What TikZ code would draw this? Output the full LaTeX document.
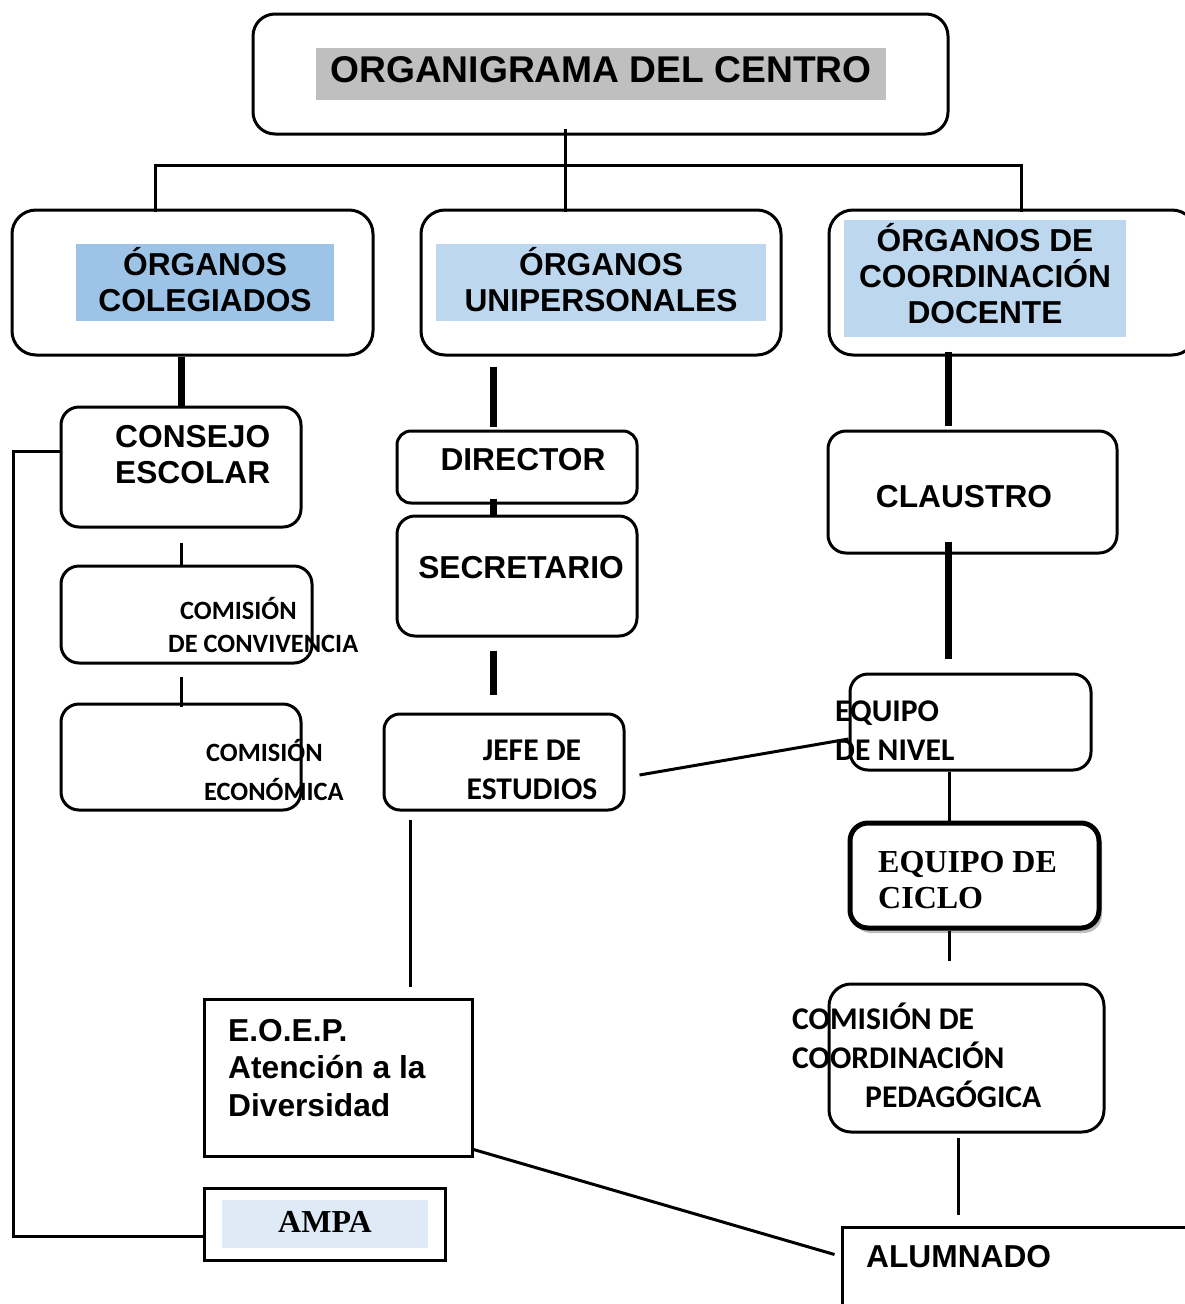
\documentclass[tikz,border=0pt]{standalone}
\usepackage{fontspec}
\setmainfont{Liberation Sans}
\newfontfamily\calibri{Carlito}
\newfontfamily\romana{Liberation Serif}
\usetikzlibrary{fit,shadows,calc}
\definecolor{grisTitulo}{HTML}{BFBFBF}
\definecolor{azulOscuro}{HTML}{9DC3E6}
\definecolor{azulClaro}{HTML}{BDD7EE}
\definecolor{azulPalido}{HTML}{DEEBF7}
\begin{document}
\begin{tikzpicture}[x=1pt,y=-1pt,
    caja/.style={draw, line width=3pt, rounded corners=18pt, inner sep=0pt},
    recta/.style={draw, line width=3pt, inner sep=0pt},
    fondo/.style={fill=#1, inner sep=0pt},
    linea/.style={line width=3pt},
    gruesa/.style={line width=7pt},
    arial/.style={inner sep=0pt, font=\bfseries\fontsize{31.7}{36}\selectfont},
    cali/.style={inner sep=0pt, font=\calibri\bfseries\fontsize{31.6}{39}\selectfont},
    calichica/.style={inner sep=0pt, font=\calibri\bfseries\fontsize{26.4}{33}\selectfont},
    serifa/.style={inner sep=0pt, font=\romana\bfseries\fontsize{32}{36}\selectfont}]
    \useasboundingbox (0,0) rectangle (1184,1304);

    \node[caja, rounded corners=22pt, fit={(253,14) (948,134)}] (titulo) {};
    \node[caja, rounded corners=24pt, fit={(12,210) (373,355)}] (colegiados) {};
    \node[caja, rounded corners=24pt, fit={(421,210) (781,355)}] (unipersonales) {};
    \node[caja, rounded corners=24pt, fit={(829,210) (1196,355)}] (docente) {};
    \node[fondo=grisTitulo, fit={(316,48) (886,100)}] (titulo-f) {};
    \node[fondo=azulOscuro, fit={(76,244) (334,321)}] (colegiados-f) {};
    \node[fondo=azulClaro, fit={(436,244) (766,321)}] (unipersonales-f) {};
    \node[fondo=azulClaro, fit={(844,220) (1126,337)}] (docente-f) {};
    \node[arial, font=\bfseries\fontsize{37.2}{42}\selectfont] (titulo-t) at (601,70) {ORGANIGRAMA DEL CENTRO};
    \node[arial, align=center] (colegiados-t) at (205,279.5) {ÓRGANOS\\COLEGIADOS};
    \node[arial, align=center] (unipersonales-t) at (601,279.5) {ÓRGANOS\\UNIPERSONALES};
    \node[arial, align=center] (docente-t) at (985,273.5) {ÓRGANOS DE\\COORDINACIÓN\\DOCENTE};

    \node[caja, fit={(61,407) (301,527)}] (consejo) {};
    \node[caja, fit={(61,566) (312,663)}] (convivencia) {};
    \node[caja, fit={(61,704) (301,810)}] (economica) {};
    \node[arial, align=left, anchor=west] (consejo-t) at (115,455) {CONSEJO\\ESCOLAR};
    \node[calichica, align=left, anchor=west] (convivencia-t) at (168,625) {\hspace*{12pt}COMISIÓN\\DE CONVIVENCIA};
    \node[calichica, align=left, anchor=west, font=\calibri\bfseries\fontsize{26.4}{39}\selectfont] (economica-t) at (204,770) {\hspace*{2pt}COMISIÓN\\ECONÓMICA};

    \node[caja, rounded corners=14pt, fit={(397,431) (637,503)}] (director) {};
    \node[caja, fit={(397,516) (637,636)}] (secretario) {};
    \node[caja, rounded corners=16pt, fit={(384,714) (624,810)}] (jefe) {};
    \node[recta, fit={(204,999) (472,1156)}] (eoep) {};
    \node[recta, fit={(204,1188) (445,1260)}] (ampa) {};
    \node[fondo=azulPalido, fit={(222,1200) (428,1248)}] (ampa-f) {};
    \node[arial] (director-t) at (523,460) {DIRECTOR};
    \node[arial] (secretario-t) at (521,568) {SECRETARIO};
    \node[cali, align=center] (jefe-t) at (532,770) {JEFE DE\\ESTUDIOS};
    \node[arial, align=left, anchor=west, font=\bfseries\fontsize{31.7}{37.5}\selectfont] (eoep-t) at (228,1068) {E.O.E.P.\\Atención a la\\Diversidad};
    \node[serifa] (ampa-t) at (325,1222) {AMPA};

    \node[caja, fit={(828,431) (1117,553)}] (claustro) {};
    \node[caja, fit={(850,674) (1091,770)}] (nivel) {};
    \node[caja, line width=5pt, fill=white, drop shadow={shadow xshift=3pt, shadow yshift=-5pt, fill=black!25, opacity=1}, fit={(850,823) (1099,928)}] (ciclo) {};
    \node[caja, rounded corners=22pt, fit={(829,984) (1104,1132)}] (ccp) {};
    \node[recta, fit={(842,1227) (1200,1320)}] (alumnado) {};
    \node[arial] (claustro-t) at (964,497) {CLAUSTRO};
    \node[cali, align=left, anchor=west] (nivel-t) at (835,731) {EQUIPO\\DE NIVEL};
    \node[serifa, align=left, anchor=west] (ciclo-t) at (878,880) {EQUIPO DE\\CICLO};
    \node[cali, align=left, anchor=west] (ccp-t) at (792,1055) {COMISIÓN DE\\COORDINACIÓN\\\hspace*{73pt}PEDAGÓGICA};
    \node[arial, anchor=west] (alumnado-t) at (866,1257) {ALUMNADO};

    \coordinate (rama) at (565,165);
    \coordinate (ramaIzq) at (155,165);
    \coordinate (ramaDer) at (1021,165);
    \draw[linea] ($(rama |- titulo.south)+(0,-7)$) -- ($(rama |- unipersonales.north)+(0,3)$);
    \draw[linea] ($(ramaIzq |- colegiados.north)+(0,3)$) -- (ramaIzq) -- (ramaDer) -- ($(ramaDer |- docente.north)+(0,3)$);

    \draw[gruesa] (colegiados.south -| consejo.north) -- (consejo.north);
    \draw[linea] ($(consejo.south)+(0,14)$) -- (consejo.south |- convivencia.north);
    \draw[linea] ($(convivencia.south -| consejo.south)+(0,12)$) -- ($(economica.north -| consejo.south)+(0,4)$);
    \coordinate (esquina) at (13,1236);
    \draw[linea] ($(consejo.west)+(0,-16)$) -| (esquina) -- (esquina -| ampa.west);

    \coordinate (ejeU) at (493,0);
    \coordinate (ejeJ) at (410,0);
    \draw[gruesa] ($(ejeU |- unipersonales.south)+(0,10)$) -- ($(ejeU |- director.north)+(0,-3)$);
    \draw[gruesa] ($(ejeU |- director.south)+(0,-6)$) -- ($(ejeU |- secretario.north)+(0,2)$);
    \draw[gruesa] ($(ejeU |- secretario.south)+(0,13)$) -- ($(ejeU |- jefe.north)+(0,-18)$);
    \draw[linea] ($(ejeJ |- jefe.south)+(0,8)$) -- ($(ejeJ |- eoep.north)+(0,-11)$);
    \draw[linea] ($(jefe.east)+(14,13)$) -- ($(nivel.west)+(0,17)$);
    \draw[linea] ($(eoep.south east)+(0,-8)$) -- ($(alumnado.north west)+(-6,29)$);

    \coordinate (ejeD) at (948,0);
    \coordinate (ejeN) at (949,0);
    \coordinate (ejeA) at (958,0);
    \draw[gruesa] ($(ejeD |- docente.south)+(0,-5)$) -- ($(ejeD |- claustro.north)+(0,-4)$);
    \draw[gruesa] ($(ejeD |- claustro.south)+(0,-13)$) -- ($(ejeD |- nivel.north)+(0,-14)$);
    \draw[linea] (ejeN |- nivel.south) -- (ejeN |- ciclo.north);
    \draw[linea] (ejeN |- ciclo.south) -- ($(ejeN |- ccp.north)+(0,-22)$);
    \draw[linea] ($(ejeA |- ccp.south)+(0,4)$) -- ($(ejeA |- alumnado.north)+(0,-11)$);
\end{tikzpicture}
\end{document}
